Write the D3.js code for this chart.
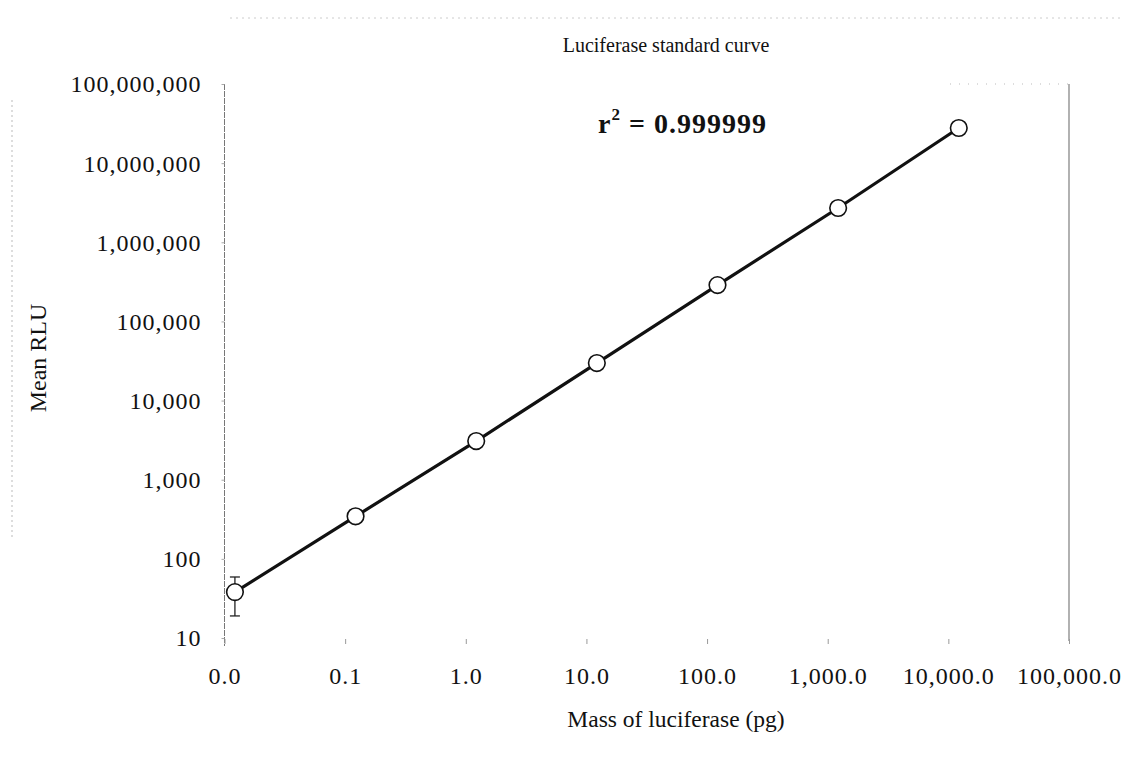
<!DOCTYPE html>
<html><head><meta charset="utf-8">
<script src="https://cdn.jsdelivr.net/npm/d3@7"></script>
<style>
html,body{margin:0;padding:0;background:#fff;}
svg{display:block;}
text{font-family:"Liberation Serif","Times New Roman",serif;fill:#111;}
</style></head>
<body>
<svg id="chart" width="1122" height="766"></svg>
<script>
// Data
const massPg = [0.0122, 0.122, 1.22, 12.2, 122, 1220, 12200];
const meanRLU = [38, 345, 3080, 29800, 288000, 2710000, 27800000];
const errLow = [19, null, null, null, null, null, null];
const errHigh = [59, null, null, null, null, null, null];
const xTickValues = [0.01, 0.1, 1, 10, 100, 1000, 10000, 100000];
const xTickLabels = ["0.0", "0.1", "1.0", "10.0", "100.0", "1,000.0", "10,000.0", "100,000.0"];
const yTickValues = [10, 100, 1000, 10000, 100000, 1000000, 10000000, 100000000];
const yTickLabels = ["10", "100", "1,000", "10,000", "100,000", "1,000,000", "10,000,000", "100,000,000"];
const titleText = "Luciferase standard curve";
const xTitle = "Mass of luciferase (pg)";
const yTitle = "Mean RLU";

const svg = d3.select("#chart");
const L = 224.5, R = 1069, T = 84, B = 638;
const x = d3.scaleLog().domain([0.01, 100000]).range([L, R]);
const y = d3.scaleLog().domain([10, 100000000]).range([B, T]);

// faint scan border
svg.append("line").attr("x1", 12).attr("x2", 12).attr("y1", 100).attr("y2", 540)
  .attr("stroke", "#bbb").attr("stroke-width", 1).attr("stroke-dasharray", "2 3");
svg.append("line").attr("x1", 230).attr("x2", 1122).attr("y1", 18).attr("y2", 18)
  .attr("stroke", "#ccc").attr("stroke-width", 1).attr("stroke-dasharray", "2 4");

// plot frame: left axis line, right border, dotted top
svg.append("line").attr("x1", L).attr("x2", L).attr("y1", T).attr("y2", B + 8)
  .attr("stroke", "#777").attr("stroke-width", 1).attr("stroke-dasharray", "6 1");
svg.append("line").attr("x1", R).attr("x2", R).attr("y1", T).attr("y2", B + 3)
  .attr("stroke", "#888").attr("stroke-width", 1.3);
svg.append("line").attr("x1", 950).attr("x2", R).attr("y1", T).attr("y2", T)
  .attr("stroke", "#bbb").attr("stroke-width", 1).attr("stroke-dasharray", "1 8");

// Y axis
const yAxis = d3.axisLeft(y).tickValues(yTickValues)
  .tickFormat((d, i) => yTickLabels[i]).tickSize(3).tickPadding(20);
const gy = svg.append("g").attr("transform", `translate(${L},0)`).call(yAxis);
gy.select(".domain").remove();
gy.selectAll(".tick line").attr("stroke", "#aaa");
gy.selectAll(".tick text").attr("font-size", 24).attr("letter-spacing", "1px")
  .attr("fill", "#111").attr("dy", "0.33em");

// X axis
const xAxis = d3.axisBottom(x).tickValues(xTickValues)
  .tickFormat((d, i) => xTickLabels[i]).tickSize(5).tickPadding(24);
const gx = svg.append("g").attr("transform", `translate(0,${B})`).call(xAxis);
gx.select(".domain").remove();
gx.selectAll(".tick line").attr("stroke", "#999").attr("transform", "translate(0,1)");
gx.selectAll(".tick text").attr("font-size", 24).attr("letter-spacing", "1px").attr("fill", "#111");

// titles
svg.append("text").attr("x", 666).attr("y", 52).attr("text-anchor", "middle")
  .attr("font-size", 20).text(titleText);
svg.append("text").attr("x", 676).attr("y", 727).attr("text-anchor", "middle")
  .attr("font-size", 23.5).text(xTitle);
svg.append("text").attr("transform", "translate(46,358) rotate(-90)").attr("text-anchor", "middle")
  .attr("font-size", 24).text(yTitle);

// r^2 annotation
const r2 = svg.append("text").attr("x", 598).attr("y", 133)
  .attr("font-size", 28).attr("font-weight", "bold").attr("letter-spacing", "1px");
r2.append("tspan").text("r");
r2.append("tspan").attr("font-size", 17).attr("dy", -13).text("2");
r2.append("tspan").attr("dy", 13).text(" = 0.999999");

const pts = massPg.map((m, i) => ({m, v: meanRLU[i], lo: errLow[i], hi: errHigh[i]}));

// line
svg.append("path").datum(pts)
  .attr("d", d3.line().x(d => x(d.m)).y(d => y(d.v)))
  .attr("fill", "none").attr("stroke", "#111").attr("stroke-width", 3.2);

// error bars
const eb = svg.append("g").selectAll("g").data(pts.filter(d => d.lo != null)).join("g");
eb.append("line").attr("x1", d => x(d.m)).attr("x2", d => x(d.m))
  .attr("y1", d => y(d.hi)).attr("y2", d => y(d.lo)).attr("stroke", "#222").attr("stroke-width", 1.3);
eb.append("line").attr("x1", d => x(d.m) - 5).attr("x2", d => x(d.m) + 5)
  .attr("y1", d => y(d.hi)).attr("y2", d => y(d.hi)).attr("stroke", "#222").attr("stroke-width", 1.3);
eb.append("line").attr("x1", d => x(d.m) - 5).attr("x2", d => x(d.m) + 5)
  .attr("y1", d => y(d.lo)).attr("y2", d => y(d.lo)).attr("stroke", "#222").attr("stroke-width", 1.3);

// markers
svg.append("g").selectAll("circle").data(pts).join("circle")
  .attr("cx", d => x(d.m)).attr("cy", d => y(d.v)).attr("r", 8.3)
  .attr("fill", "#fff").attr("stroke", "#111").attr("stroke-width", 1.6);
</script>
</body></html>
